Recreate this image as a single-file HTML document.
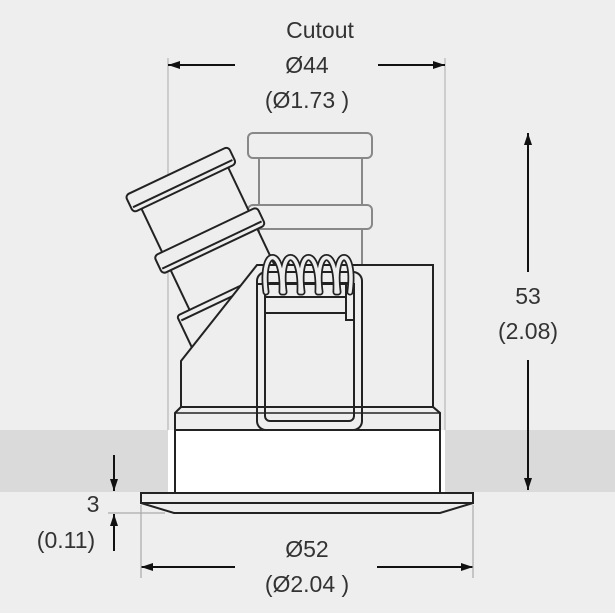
<!DOCTYPE html>
<html><head><meta charset="utf-8"><style>
html,body{margin:0;padding:0;background:#eeeeee;}
svg{display:block;}
text{font-family:"Liberation Sans","DejaVu Sans",sans-serif;font-size:23px;fill:#333;text-anchor:middle;}
</style></head><body>
<svg width="615" height="615" viewBox="0 0 615 615" xmlns="http://www.w3.org/2000/svg">
<defs>
<marker id="ah" viewBox="0 0 12 8" refX="12" refY="4" markerWidth="12" markerHeight="8" markerUnits="userSpaceOnUse" orient="auto"><path d="M0,0 L12,4 L0,8 z" fill="#111"/></marker>
</defs>
<rect x="0" y="0" width="615" height="615" fill="#eeeeee"/>
<rect x="0" y="430" width="615" height="62" fill="#dadada"/>
<rect x="0" y="613" width="615" height="2" fill="#ffffff"/>
<rect x="168" y="430" width="277" height="62" fill="#ffffff"/>
<line x1="168" y1="58" x2="168" y2="430" stroke="#bbb" stroke-width="1.3"/>
<line x1="445" y1="58" x2="445" y2="430" stroke="#bbb" stroke-width="1.3"/>
<!-- ghost cylinder -->
<g fill="#eeeeee" stroke="#888" stroke-width="2">
<rect x="259" y="156" width="103" height="112"/>
<rect x="248" y="133" width="124" height="25" rx="5"/>
<rect x="248" y="205" width="124" height="24" rx="5"/>
</g>
<!-- tilted cylinder -->
<g transform="translate(181,180) rotate(-25.4)" fill="#eeeeee" stroke="#222" stroke-width="2">
<rect x="-48" y="5" width="96" height="170"/>
<rect x="-57" y="-10" width="114" height="19" rx="4"/>
<line x1="-55" y1="4" x2="55" y2="4"/>
<rect x="-57" y="57" width="114" height="20" rx="4"/>
<line x1="-55" y1="72" x2="55" y2="72"/>
<rect x="-62" y="121" width="124" height="50" rx="3"/>
<line x1="-60" y1="127" x2="60" y2="127"/>
</g>
<!-- body -->
<g fill="#eeeeee" stroke="#222" stroke-width="2">
<path d="M181,407 L181,361 L257,265 L433,265 L433,407 Z"/>
<path d="M175,493 L175,413 L181,407 L433,407 L440,413 L440,493" fill="#ffffff"/>
<path d="M175,430 L175,413 L181,407 L433,407 L440,413 L440,430 Z" fill="#eeeeee"/>
<line x1="175" y1="413" x2="440" y2="413" stroke-width="1.5"/>
</g>
<!-- clip -->
<g fill="none" stroke="#222" stroke-width="2">
<rect x="257" y="272" width="105" height="158" rx="9"/>
<rect x="265" y="283" width="89" height="138" rx="5"/>
<line x1="257" y1="284" x2="354" y2="284"/>
<line x1="265" y1="297" x2="354" y2="297"/>
<line x1="265" y1="313" x2="354" y2="313"/>
<rect x="346" y="284" width="8" height="36" fill="#eeeeee"/>
</g>
<!-- spring -->
<g fill="none" stroke-linecap="round">
<g stroke="#222" stroke-width="7">
<path d="M266,292 C260,246 284,246 282,292"/>
<path d="M284,292 C278,246 302,246 300,292"/>
<path d="M302,292 C296,246 320,246 318,292"/>
<path d="M320,292 C314,246 338,246 336,292"/>
<path d="M338,292 C332,246 356,246 350,292"/>
</g>
<g stroke="#eeeeee" stroke-width="3.5">
<path d="M266,292 C260,246 284,246 282,292"/>
<path d="M284,292 C278,246 302,246 300,292"/>
<path d="M302,292 C296,246 320,246 318,292"/>
<path d="M320,292 C314,246 338,246 336,292"/>
<path d="M338,292 C332,246 356,246 350,292"/>
</g>
</g>
<!-- flange -->
<g fill="#eeeeee" stroke="#222" stroke-width="2">
<path d="M141,503 L174,513 L440,513 L473,503 Z"/>
<rect x="141" y="493" width="332" height="10"/>
</g>
<g stroke="#111" stroke-width="2" marker-end="url(#ah)">
<line x1="235" y1="65" x2="168" y2="65"/>
<line x1="378" y1="65" x2="445" y2="65"/>
<line x1="528" y1="272" x2="528" y2="133"/>
<line x1="528" y1="360" x2="528" y2="490"/>
<line x1="235" y1="567" x2="141" y2="567"/>
<line x1="377" y1="567" x2="473" y2="567"/>
<line x1="114" y1="455" x2="114" y2="491"/>
<line x1="114" y1="551" x2="114" y2="514"/>
</g>
<g stroke="#aaa" stroke-width="1.2">
<line x1="141" y1="505" x2="141" y2="578"/>
<line x1="473" y1="505" x2="473" y2="578"/>
<line x1="108" y1="513" x2="165" y2="513"/>
</g>
<text x="320" y="38">Cutout</text>
<text x="307" y="73">Ø44</text>
<text x="307" y="108">(Ø1.73 )</text>
<text x="528" y="304">53</text>
<text x="528" y="339">(2.08)</text>
<text x="307" y="557">Ø52</text>
<text x="307" y="592">(Ø2.04 )</text>
<text x="93" y="512">3</text>
<text x="66" y="548">(0.11)</text>
</svg>
</body></html>
